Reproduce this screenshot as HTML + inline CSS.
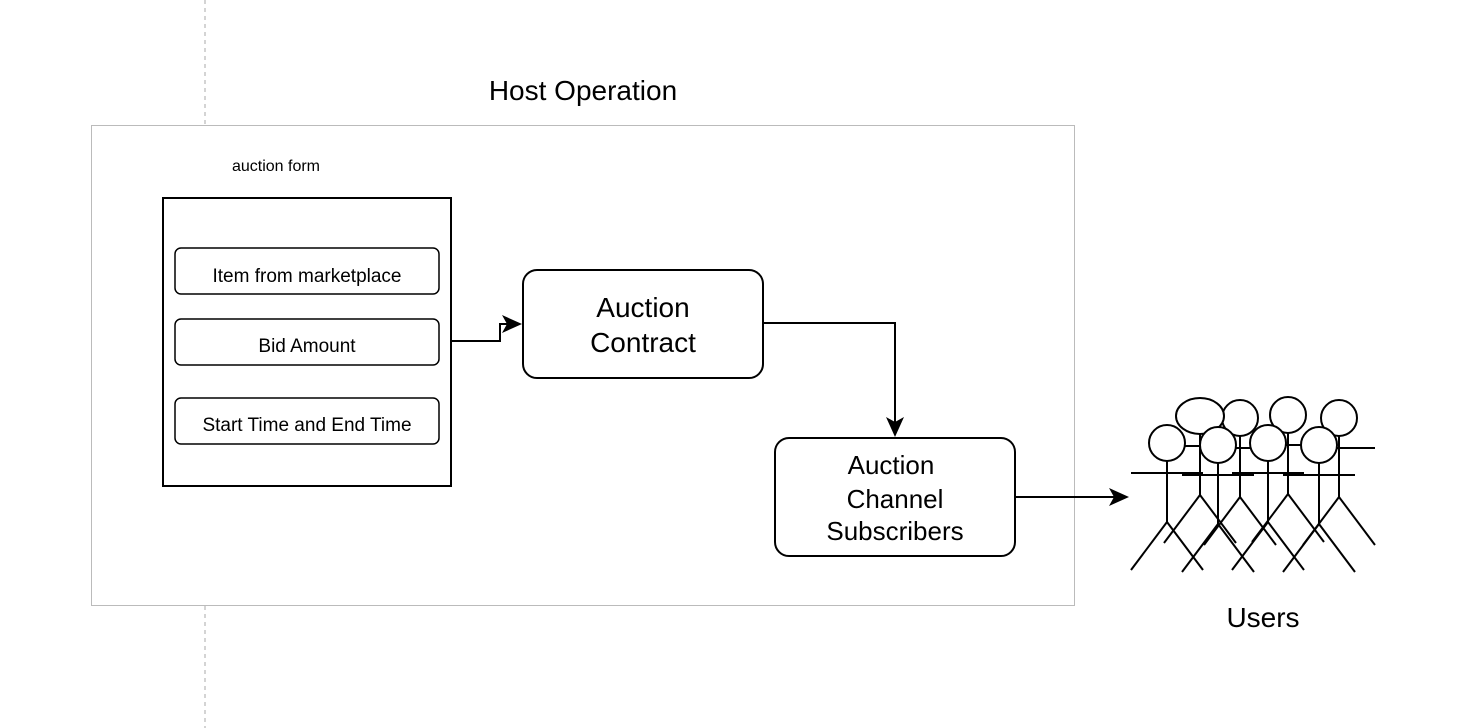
<!DOCTYPE html>
<html><head><meta charset="utf-8"><style>
html,body{margin:0;padding:0;background:#fff;}
svg{display:block;font-family:"Liberation Sans",Arial,sans-serif;}
</style></head><body>
<svg width="1470" height="728" viewBox="0 0 1470 728" xmlns="http://www.w3.org/2000/svg">
<defs>
<g id="fig" fill="none" stroke="#000" stroke-width="2">
<circle cx="0" cy="0" r="18" fill="#fff"/>
<line x1="0" y1="18" x2="0" y2="79"/>
<line x1="-36" y1="30" x2="36" y2="30"/>
<line x1="0" y1="79" x2="-36" y2="127"/>
<line x1="0" y1="79" x2="36" y2="127"/>
</g>
</defs>
<line x1="205" y1="0" x2="205" y2="126" stroke="#aaa" stroke-dasharray="4,4"/>
<line x1="205" y1="606" x2="205" y2="728" stroke="#aaa" stroke-dasharray="4,4"/>
<rect x="91.5" y="125.5" width="983" height="480" fill="#fff" stroke="#bbb"/>
<text x="583" y="100" font-size="28" text-anchor="middle">Host Operation</text>
<text x="276" y="171" font-size="16" text-anchor="middle">auction form</text>
<rect x="163" y="198" width="288" height="288" fill="#fff" stroke="#000" stroke-width="2"/>
<rect x="175" y="248" width="264" height="46" rx="6" fill="#fff" stroke="#000" stroke-width="1.5"/>
<text x="307" y="282" font-size="19" text-anchor="middle">Item from marketplace</text>
<rect x="175" y="319" width="264" height="46" rx="6" fill="#fff" stroke="#000" stroke-width="1.5"/>
<text x="307" y="352" font-size="19" text-anchor="middle">Bid Amount</text>
<rect x="175" y="398" width="264" height="46" rx="6" fill="#fff" stroke="#000" stroke-width="1.5"/>
<text x="307" y="431" font-size="19" text-anchor="middle">Start Time and End Time</text>
<path d="M452,341 H500 V324 H508" fill="none" stroke="#000" stroke-width="2"/>
<path d="M522,324 L502,315 L507,324 L502,333 z" fill="#000"/>
<rect x="523" y="270" width="240" height="108" rx="14" fill="#fff" stroke="#000" stroke-width="2"/>
<text x="643" y="317" font-size="28" text-anchor="middle">Auction</text>
<text x="643" y="352" font-size="28" text-anchor="middle">Contract</text>
<path d="M764,323 H895 V424" fill="none" stroke="#000" stroke-width="2"/>
<path d="M895,437 L886,417 L895,422 L904,417 z" fill="#000"/>
<rect x="775" y="438" width="240" height="118" rx="14" fill="#fff" stroke="#000" stroke-width="2"/>
<text x="891" y="474" font-size="26" text-anchor="middle">Auction</text>
<text x="895" y="508" font-size="26" text-anchor="middle">Channel</text>
<text x="895" y="540" font-size="26" text-anchor="middle">Subscribers</text>
<path d="M1016,497 H1115" fill="none" stroke="#000" stroke-width="2"/>
<path d="M1129,497 L1109,488 L1114,497 L1109,506 z" fill="#000"/>
<g>
<use href="#fig" x="1339" y="418"/>
<use href="#fig" x="1288" y="415"/>
<use href="#fig" x="1240" y="418"/>
<g transform="translate(1200,416)" fill="none" stroke="#000" stroke-width="2">
<ellipse cx="0" cy="0" rx="24" ry="18" fill="#fff"/>
<line x1="0" y1="18" x2="0" y2="79"/><line x1="-36" y1="30" x2="36" y2="30"/>
<line x1="0" y1="79" x2="-36" y2="127"/><line x1="0" y1="79" x2="36" y2="127"/>
</g>
<use href="#fig" x="1319" y="445"/>
<use href="#fig" x="1268" y="443"/>
<use href="#fig" x="1218" y="445"/>
<use href="#fig" x="1167" y="443"/>
</g>
<text x="1263" y="627" font-size="28" text-anchor="middle">Users</text>
</svg>
</body></html>
